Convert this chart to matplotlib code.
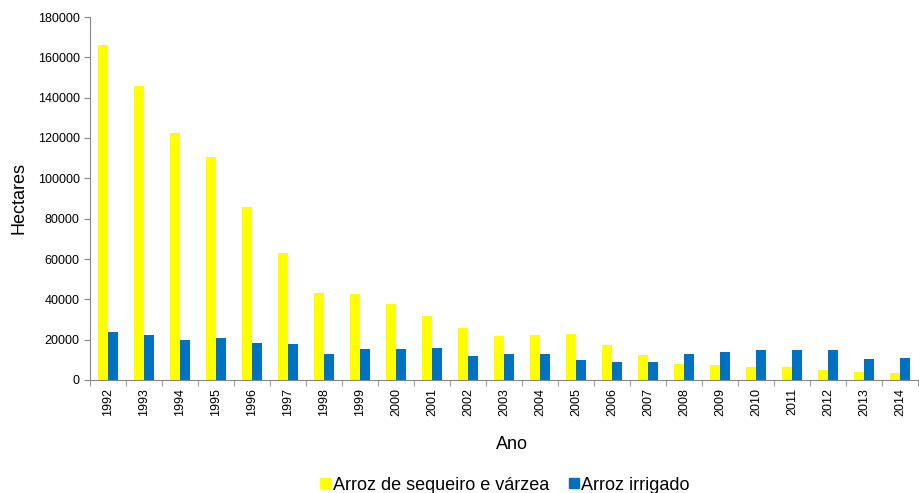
import matplotlib
matplotlib.use("Agg")
import matplotlib.pyplot as plt
import numpy as np
from matplotlib.lines import Line2D

plt.rcParams['font.family'] = ['Liberation Sans', 'DejaVu Sans']

years = [str(y) for y in range(1992, 2015)]
sequeiro = [166000, 146000, 122500, 110500, 86000, 63000, 43000, 42600, 37700, 31700,
            26000, 22000, 22300, 22800, 17200, 12400, 8100, 7400, 6600, 6400, 5100, 4000, 3300]
irrigado = [23600, 22500, 19800, 20600, 18300, 17700, 13000, 15400, 15400, 15700,
            11900, 13000, 13000, 9700, 8900, 8900, 12700, 13900, 15000, 15000, 15000, 10400, 10900]

fig = plt.figure(figsize=(9.19, 4.93), dpi=100)
ax = fig.add_axes([90/919, 1-380/493, 828/919, 363/493])

x = np.arange(len(years))
w = 0.285
ax.bar(x - w/2, sequeiro, w, color='#FFFF00', label='Arroz de sequeiro e várzea')
ax.bar(x + w/2, irrigado, w, color='#0070C0', label='Arroz irrigado')

ax.set_xlim(-0.5, len(years) - 0.5)
ax.set_ylim(0, 180000)
ax.set_yticks(np.arange(0, 180001, 20000))
ax.set_yticklabels([str(v) for v in range(0, 180001, 20000)], fontsize=9)
ax.set_xticks(x)
ax.set_xticklabels(years, rotation=90, fontsize=9)
ax.set_xticks(np.arange(-0.5, len(years), 1), minor=True)
ax.tick_params(axis='x', which='major', length=0, pad=6)
ax.tick_params(axis='x', which='minor', length=4, color='#868686', direction='out')
ax.tick_params(axis='y', length=4, color='#868686', direction='out')

for s in ['top', 'right']:
    ax.spines[s].set_visible(False)
for s in ['left', 'bottom']:
    ax.spines[s].set_color('#868686')

ax.set_ylabel('Hectares', fontsize=13, labelpad=7)
ax.set_xlabel('Ano', fontsize=13, labelpad=14)
ax.xaxis.set_label_coords(0.51, -0.155)

handles = [Line2D([], [], marker='s', linestyle='', markersize=7, color='#FFFF00'),
           Line2D([], [], marker='s', linestyle='', markersize=7, color='#0070C0')]
fig.legend(handles, ['Arroz de sequeiro e várzea', 'Arroz irrigado'], loc='center',
           bbox_to_anchor=(504/919, 1-485/493), ncol=2, frameon=False, fontsize=13,
           handletextpad=0.0, columnspacing=1.0, handlelength=0.8, borderpad=0)

fig.savefig('out.png', dpi=100)
